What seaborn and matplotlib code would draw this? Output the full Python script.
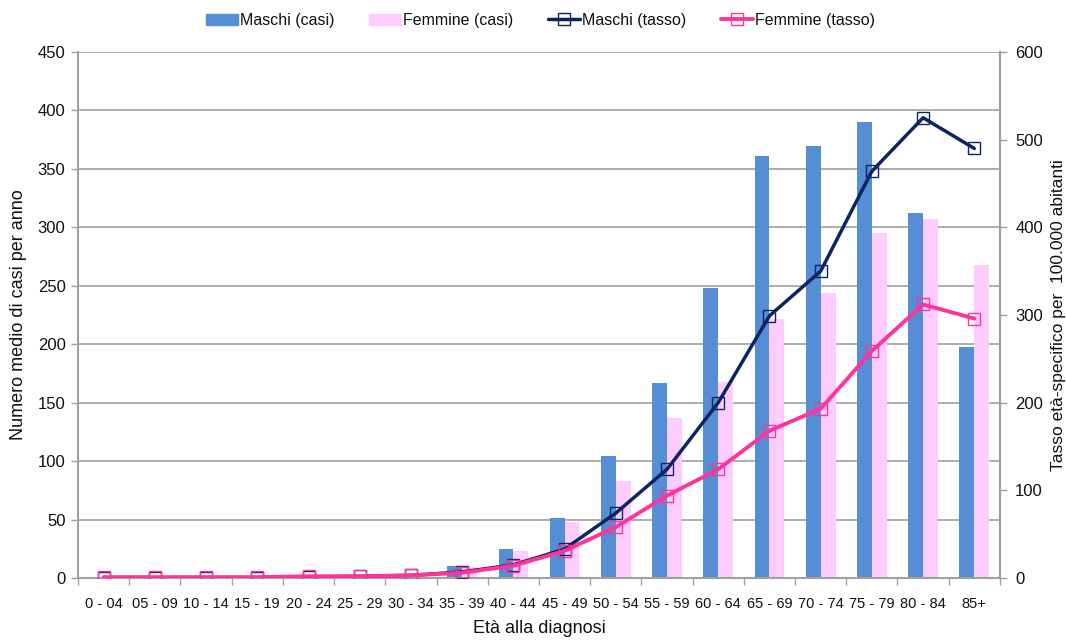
import numpy as np
import pandas as pd
import matplotlib
matplotlib.use("Agg")
import matplotlib.pyplot as plt
import seaborn as sns
from matplotlib.patches import Patch
from matplotlib.lines import Line2D
from matplotlib.ticker import FixedLocator, NullFormatter

categories = ["0 - 04", "05 - 09", "10 - 14", "15 - 19", "20 - 24", "25 - 29",
              "30 - 34", "35 - 39", "40 - 44", "45 - 49", "50 - 54", "55 - 59",
              "60 - 64", "65 - 69", "70 - 74", "75 - 79", "80 - 84", "85+"]
maschi_casi = [0, 0, 0, 0, 1, 1, 3.5, 10, 25, 51, 104, 167, 248, 361, 370, 390, 312, 198]
femmine_casi = [0, 0, 0, 0, 1, 1, 3, 9, 23, 48, 83, 137, 168, 222, 244, 295, 307, 268]
maschi_tasso = [0, 0, 0, 0, 1, 2, 3, 7, 15, 33, 74, 124, 200, 299, 350, 464, 525, 490]
femmine_tasso = [1, 1, 1, 1, 2, 2, 3, 6, 14, 31, 58, 94, 124, 168, 193, 259, 312, 296]

sns.set_theme(style="white")
plt.rcParams['font.family'] = ['Liberation Sans', 'DejaVu Sans']

C_M = "#558ED5"
C_F = "#FFCCFF"
C_ML = "#0C2461"
C_FL = "#FF3399"
GRID = "#A0A0A0"
TXT = "#111111"

df = pd.DataFrame({
    "cat": categories * 2,
    "val": maschi_casi + femmine_casi,
    "sex": ["Maschi (casi)"] * len(categories) + ["Femmine (casi)"] * len(categories),
})

fig = plt.figure(figsize=(10.66, 6.42), dpi=100)
ax = fig.add_axes([0.0732, 0.0997, 0.8648, 0.8193])

sns.barplot(data=df, x="cat", y="val", hue="sex", order=categories,
            palette={"Maschi (casi)": C_M, "Femmine (casi)": C_F},
            width=0.58, dodge=True, errorbar=None, ax=ax, legend=False,
            saturation=1, linewidth=0)

ax.set_ylim(0, 450)
ax.set_xlim(-0.5, len(categories) - 0.5)
ax.set_yticks(np.arange(0, 451, 50))
ax.yaxis.grid(True, color=GRID, linewidth=1.2)
ax.set_axisbelow(True)
ax.spines["top"].set_visible(False)
for s in ["left", "bottom", "right"]:
    ax.spines[s].set_color(GRID)
    ax.spines[s].set_linewidth(1.5)

ax.tick_params(axis="y", which="major", direction="out", length=5, color=GRID,
               width=1, labelsize=12, pad=4, left=True, labelcolor=TXT)
ax.tick_params(axis="x", which="major", length=0, labelsize=10.5, pad=14, labelcolor=TXT)
ax.xaxis.set_minor_locator(FixedLocator(np.arange(-0.5, len(categories), 1)))
ax.xaxis.set_minor_formatter(NullFormatter())
ax.tick_params(axis="x", which="minor", direction="out", length=5, color=GRID,
               width=1, bottom=True)

ax.set_xlabel("Età alla diagnosi", fontsize=13, color=TXT, labelpad=6)
ax.set_ylabel("Numero medio di casi per anno", fontsize=13, color=TXT, labelpad=8)

ax2 = ax.twinx()
x = np.arange(len(categories))
sns.lineplot(x=x, y=maschi_tasso, ax=ax2, color=C_ML, linewidth=2.5,
             marker="s", markersize=8, markerfacecolor="none",
             markeredgecolor=C_ML, markeredgewidth=1.0, zorder=3)
sns.lineplot(x=x, y=femmine_tasso, ax=ax2, color=C_FL, linewidth=2.8,
             marker="s", markersize=8, markerfacecolor="none",
             markeredgecolor=C_FL, markeredgewidth=1.0, zorder=4)
ax2.set_ylim(0, 600)
ax2.set_yticks(np.arange(0, 601, 100))
ax2.set_xlim(-0.5, len(categories) - 0.5)
ax2.grid(False)
for s in ["top", "left", "bottom"]:
    ax2.spines[s].set_visible(False)
ax2.spines["right"].set_color(GRID)
ax2.spines["right"].set_linewidth(1.5)
ax2.tick_params(axis="y", direction="out", length=5, color=GRID, width=1,
                labelsize=12, pad=6, right=True, labelcolor=TXT)
ax2.set_ylabel("Tasso età-specifico per  100.000 abitanti", fontsize=12.5,
               color=TXT)
ax2.yaxis.set_label_coords(1.0635, 0.5)
ax2.yaxis.label.set_ha("center")
ax2.yaxis.label.set_va("center")

handles = [
    Patch(facecolor=C_M, edgecolor=C_M),
    Patch(facecolor=C_F, edgecolor=C_F),
    Line2D([0], [0], color=C_ML, lw=2.5, marker="s", markersize=8,
           markerfacecolor="none", markeredgecolor=C_ML),
    Line2D([0], [0], color=C_FL, lw=2.8, marker="s", markersize=8,
           markerfacecolor="none", markeredgecolor=C_FL),
]
labels = ["Maschi (casi)", "Femmine (casi)", "Maschi (tasso)", "Femmine (tasso)"]
leg = fig.legend(handles, labels, loc="center", bbox_to_anchor=(0.507, 0.968), ncol=4,
                 frameon=False, handlelength=2.0, handletextpad=0.1,
                 columnspacing=2.2, prop={"size": 11.5})
for t in leg.get_texts():
    t.set_color(TXT)

fig.savefig("out.png", dpi=100)
